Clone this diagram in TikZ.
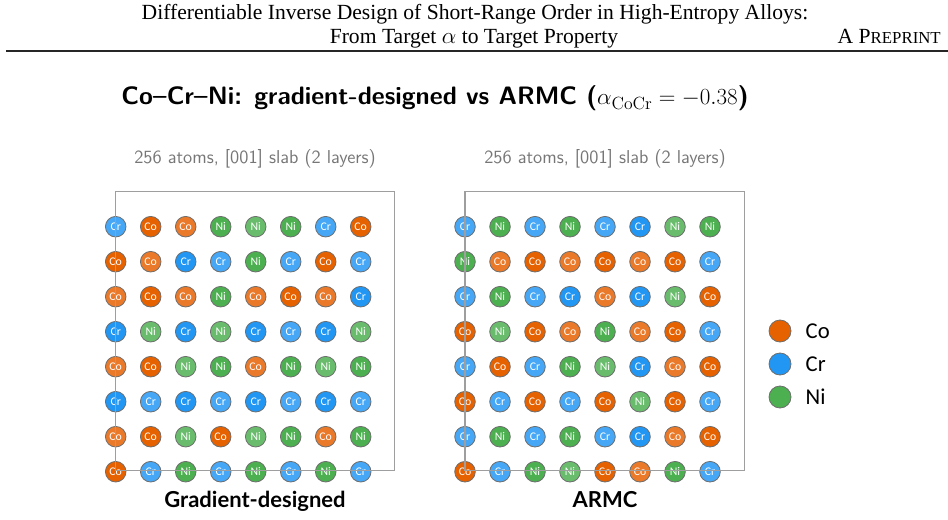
\documentclass[tikz,border=0pt]{standalone}
\usepackage{fontspec}
\usetikzlibrary{positioning}
\newfontfamily\hdrfont{Liberation Serif}
\newfontfamily\atomfont{Carlito}
\newfontfamily\capfont{Lato}
\newlength{\upx}
\setlength{\upx}{0.75pt}
\definecolor{CoD}{RGB}{230,97,0}
\definecolor{CrD}{RGB}{33,150,243}
\definecolor{NiD}{RGB}{76,175,80}
\colorlet{CoL}{CoD!84!white}
\colorlet{CrL}{CrD!84!white}
\colorlet{NiL}{NiD!84!white}
\definecolor{framegray}{RGB}{158,158,158}
\definecolor{edgegray}{RGB}{110,110,110}
\definecolor{subgray}{RGB}{118,118,118}
\newcommand{\gradlist}{Cr,Co,Co,Ni,Ni,Ni,Cr,Co,
  Co,Co,Cr,Cr,Ni,Cr,Co,Cr,
  Co,Co,Co,Ni,Co,Co,Co,Cr,
  Cr,Ni,Cr,Ni,Cr,Cr,Cr,Ni,
  Co,Co,Ni,Ni,Co,Ni,Ni,Ni,
  Cr,Cr,Cr,Cr,Cr,Cr,Cr,Cr,
  Co,Co,Ni,Co,Ni,Ni,Co,Ni,
  Co,Cr,Ni,Cr,Ni,Cr,Ni,Cr}
\newcommand{\armclist}{Cr,Ni,Cr,Ni,Cr,Cr,Ni,Ni,
  Ni,Co,Co,Co,Co,Co,Co,Cr,
  Cr,Ni,Cr,Cr,Co,Cr,Ni,Co,
  Co,Ni,Co,Co,Ni,Co,Co,Cr,
  Cr,Co,Cr,Ni,Ni,Cr,Co,Co,
  Co,Cr,Co,Cr,Co,Ni,Co,Cr,
  Cr,Ni,Cr,Ni,Cr,Cr,Co,Co,
  Co,Cr,Ni,Ni,Co,Co,Ni,Cr}
\tikzset{
  atom/.style={circle, draw=edgegray, line width=0.8\upx, minimum size=20.6\upx,
    inner sep=0pt, text=white, font=\atomfont\fontsize{8.8}{9}\selectfont},
  framebox/.style={draw=framegray, line width=1.3\upx},
  hdr/.style={font=\hdrfont\fontsize{16.2}{18}\selectfont, inner sep=0pt},
  subtitle/.style={text=subgray, font=\sffamily\fontsize{14}{16}\selectfont, inner sep=0pt},
  caption/.style={font=\capfont\bfseries\fontsize{16.5}{18}\selectfont, inner sep=0pt},
  legdot/.style={circle, draw=edgegray, line width=0.8\upx, minimum size=22\upx, inner sep=0pt},
  legtext/.style={font=\atomfont\fontsize{17}{19}\selectfont, inner sep=0pt}
}

\begin{document}
\begin{tikzpicture}[x=1\upx, y=-1\upx]
\useasboundingbox (0,0) rectangle (948,520);
% page header
\node[hdr, anchor=base] (head1) at (475,20) {Differentiable Inverse Design of Short-Range Order in High-Entropy Alloys:};
\node[hdr, anchor=base] (head2) at (474,44) {From Target $\alpha$ to Target Property};
\node[hdr, anchor=base east] (preprint) at (941,44) {A P{\fontsize{12.6}{13}\selectfont REPRINT}};
\draw[line width=1.6\upx, black!85] (6,51) -- (948,51);
% title
\node[anchor=base, inner sep=0pt, font=\sffamily\bfseries\fontsize{18.9}{21}\selectfont] (title) at (435,105)
  {Co--Cr--Ni: gradient-designed vs ARMC ($\alpha_{\mathrm{CoCr}} = -0.38$)};
% left slab
\node[subtitle, anchor=base] (subA) at (255,164) {256 atoms, [001] slab (2 layers)};
\foreach \el [count=\i from 0] in \gradlist {
  \pgfmathtruncatemacro\c{mod(\i,8)}
  \pgfmathtruncatemacro\r{\i/8}
  \pgfmathtruncatemacro\p{mod(\c+\r,2)}
  \ifnum\p=0 \def\sh{L}\else\def\sh{D}\fi
  \node[atom, fill=\el\sh] (g\i) at (115.7+35*\c, 226.7+35*\r) {\el};
}
\draw[framebox] (115.7,191.7) rectangle (394.3,470.7);
\node[caption, anchor=base] (capA) at (255,507) {Gradient-designed};
% right slab
\node[subtitle, anchor=base] (subB) at (605,164) {256 atoms, [001] slab (2 layers)};
\foreach \el [count=\i from 0] in \armclist {
  \pgfmathtruncatemacro\c{mod(\i,8)}
  \pgfmathtruncatemacro\r{\i/8}
  \pgfmathtruncatemacro\p{mod(\c+\r,2)}
  \ifnum\p=0 \def\sh{L}\else\def\sh{D}\fi
  \node[atom, fill=\el\sh] (a\i) at (465+35*\c, 226.7+35*\r) {\el};
}
\draw[framebox] (465,191.7) rectangle (744.3,470.7);
\node[caption, anchor=base] (capB) at (605,507) {ARMC};
% legend
\node[legdot, fill=CoD] (legCo) at (780,331) {};
\node[legdot, fill=CrD] (legCr) at (780,364) {};
\node[legdot, fill=NiD] (legNi) at (780,397) {};
\node[legtext, right=14\upx of legCo] (txtCo) {Co};
\node[legtext, right=14\upx of legCr] (txtCr) {Cr};
\node[legtext, right=14\upx of legNi] (txtNi) {Ni};
\end{tikzpicture}
\end{document}
